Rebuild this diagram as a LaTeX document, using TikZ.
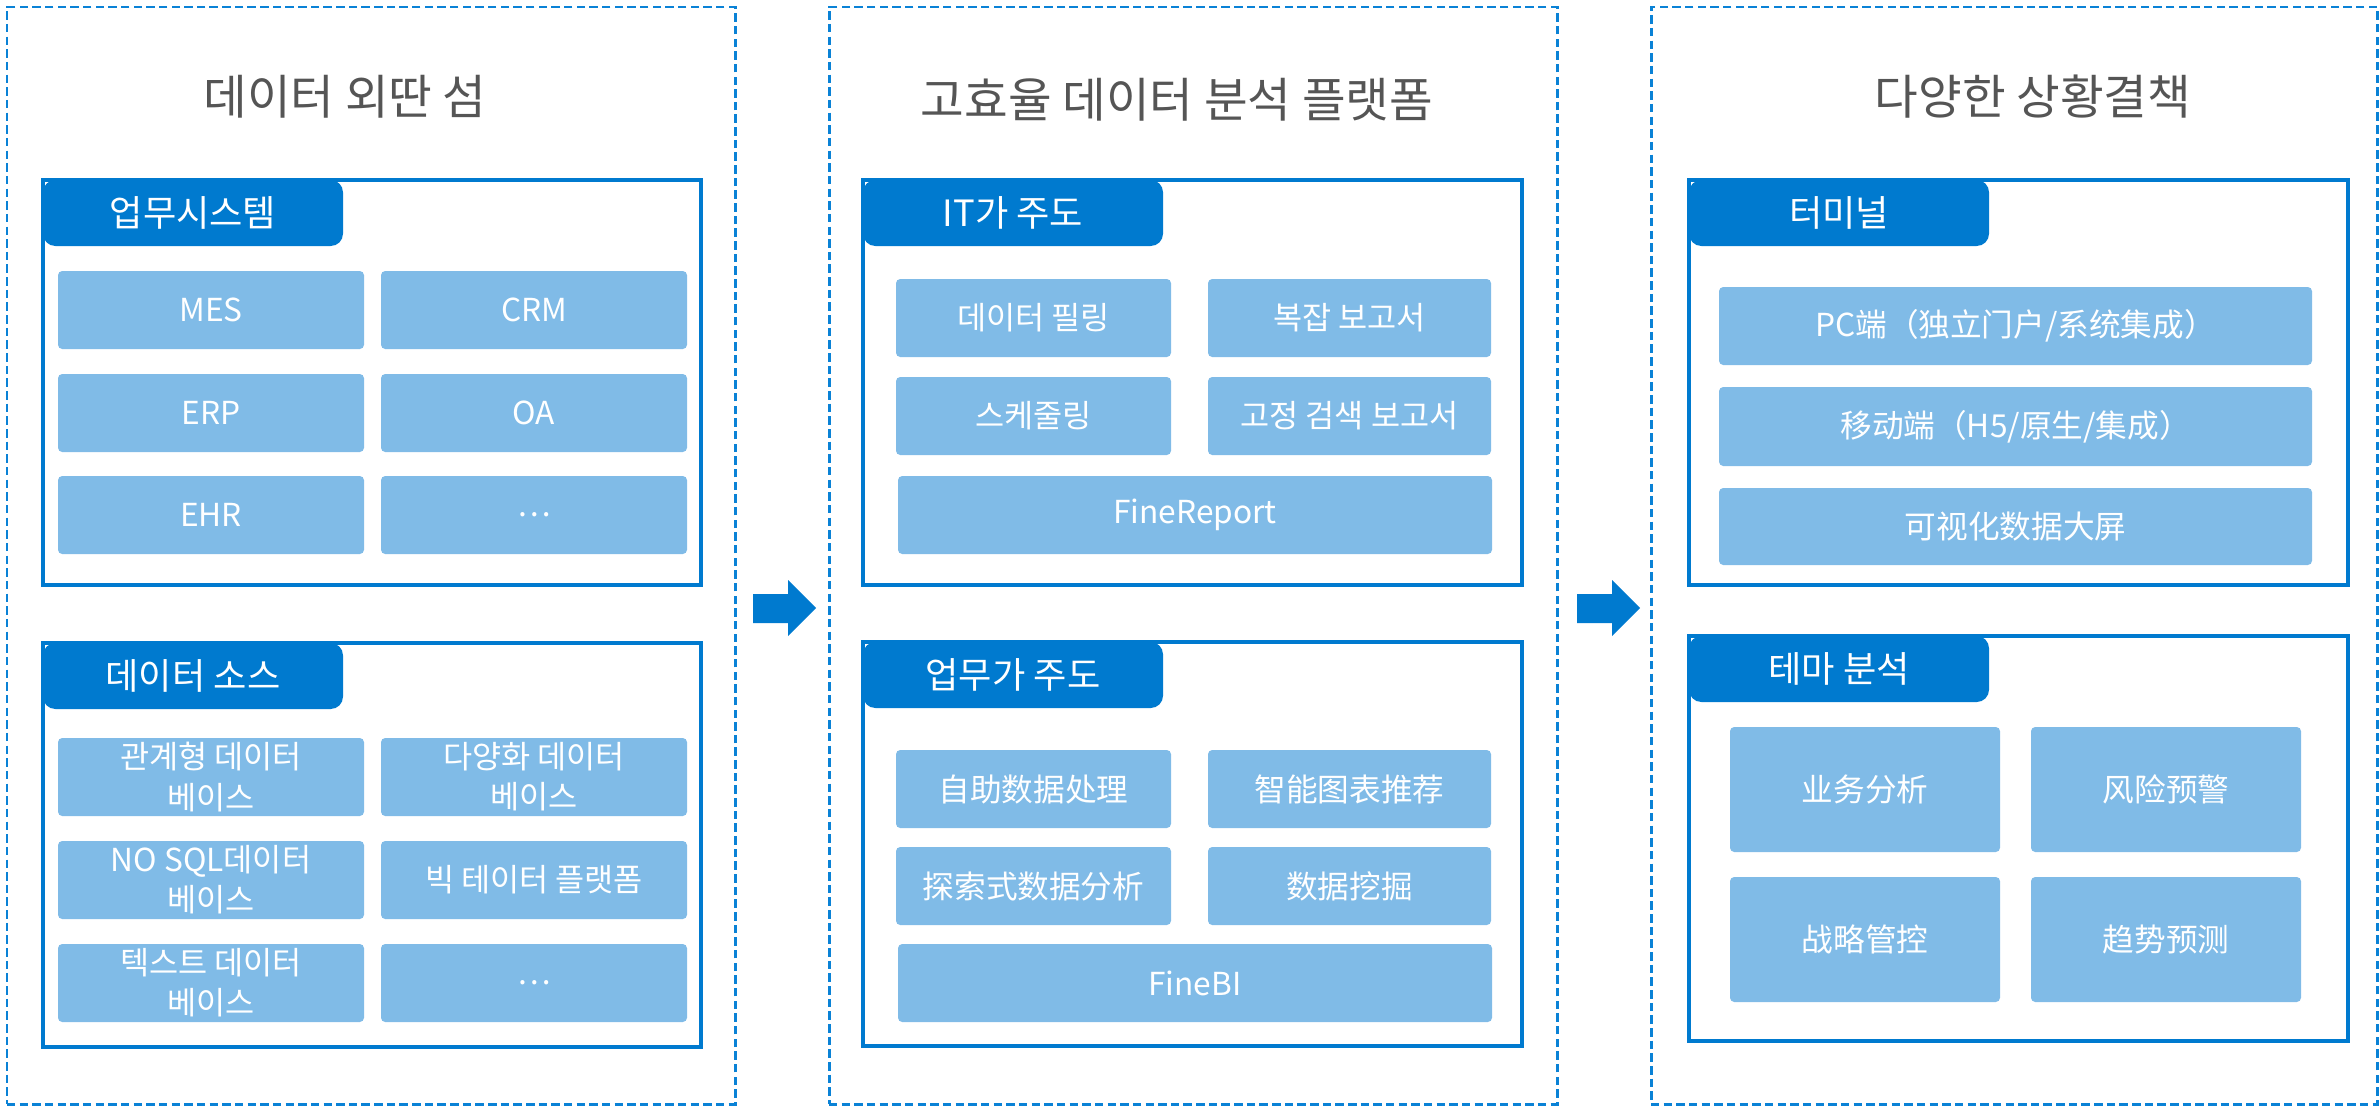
\documentclass[tikz,border=0pt]{standalone}
\usepackage{fontspec}
\setmainfont{Noto Sans CJK SC}
\usepackage{xcolor}
\definecolor{tabblue}{HTML}{007ACF}
\definecolor{itemblue}{HTML}{80BBE7}
\definecolor{dashblue}{HTML}{0A82D6}
\definecolor{titlegray}{HTML}{555555}

\tikzset{
  panel/.style={draw=dashblue, line width=0.85pt, dash pattern=on 2.4pt off 1.2pt, inner sep=0pt, outer sep=0pt},
  group/.style={draw=tabblue, line width=1pt, inner sep=0pt, outer sep=0pt},
  tab/.style={fill=tabblue, rounded corners=3.5pt, text=white, inner sep=0pt,
    font=\fontsize{10.3}{12}\selectfont},
  item/.style={fill=itemblue, rounded corners=1.2pt, text=white, align=center, inner sep=0pt,
    font=\fontsize{9}{11.4}\selectfont},
  title/.style={text=titlegray, font=\fontsize{13.5}{16}\selectfont},
}

% box node from pixel corners (x1,y1) to (x2,y2)
\newcommand{\boxnode}[7][item]{
  \node[#1, minimum width={(#5-#3)*0.01cm}, minimum height={(#6-#4)*0.01cm}]
    (#2) at ({(#3+#5)/2}, {(#4+#6)/2}) {#7};
}
% frame with its tab
\newcommand{\groupbox}[7]{
  \boxnode[group]{#1}{#2}{#3}{#4}{#5}{}
  \boxnode[tab]{#1tab}{#2+1}{#3+1}{#2+299}{#3+65}{#7}
}
\newcommand{\blockarrow}[1]{
  \fill[tabblue] (#1,594) -- (#1+35,594) -- (#1+35,580) -- (#1+63,608)
    -- (#1+35,636) -- (#1+35,623) -- (#1,623) -- cycle;
}

\begin{document}
\begin{tikzpicture}[x=0.01cm, y=-0.01cm]
  \useasboundingbox (0,0) rectangle (2379,1106);

  % dashed panels
  \boxnode[panel]{islands}{7}{7}{735}{1104}{}
  \boxnode[panel]{platform}{829}{7}{1557}{1104}{}
  \boxnode[panel]{solutions}{1651}{7}{2377}{1104}{}

  \node[title] (islandstitle) at (345,97) {데이터 외딴 섬};
  \node[title] (platformtitle) at (1177,100) {고효율 데이터 분석 플랫폼};
  \node[title] (solutionstitle) at (2033,97) {다양한 상황결책};

  \blockarrow{753}
  \blockarrow{1577}

  % panel 1
  \groupbox{biz}{43}{180}{701}{585}{}{업무시스템}
  \boxnode{mes}{58}{271}{364}{349}{MES}
  \boxnode{crm}{381}{271}{687}{349}{CRM}
  \boxnode{erp}{58}{374}{364}{452}{ERP}
  \boxnode{oa}{381}{374}{687}{452}{OA}
  \boxnode{ehr}{58}{476}{364}{554}{EHR}
  \boxnode{bizmore}{381}{476}{687}{554}{…}

  \groupbox{src}{43}{643}{701}{1047}{}{데이터 소스}
  \boxnode{rdb}{58}{738}{364}{816}{관계형 데이터\\베이스}
  \boxnode{mdb}{381}{738}{687}{816}{다양화 데이터\\베이스}
  \boxnode{nosql}{58}{841}{364}{919}{NO SQL데이터\\베이스}
  \boxnode{bigdata}{381}{841}{687}{919}{빅 테이터 플랫폼}
  \boxnode{textdb}{58}{944}{364}{1022}{텍스트 데이터\\베이스}
  \boxnode{srcmore}{381}{944}{687}{1022}{…}

  % panel 2
  \groupbox{it}{863}{180}{1522}{585}{}{IT가 주도}
  \boxnode{filling}{896}{279}{1171}{357}{데이터 필링}
  \boxnode{complex}{1208}{279}{1491}{357}{복잡 보고서}
  \boxnode{sched}{896}{377}{1171}{455}{스케줄링}
  \boxnode{fixed}{1208}{377}{1491}{455}{고정 검색 보고서}
  \boxnode{finereport}{898}{476}{1492}{554}{FineReport}

  \groupbox{bizled}{863}{642}{1522}{1046}{}{업무가 주도}
  \boxnode{selfsvc}{896}{750}{1171}{828}{自助数据处理}
  \boxnode{smartchart}{1208}{750}{1491}{828}{智能图表推荐}
  \boxnode{explore}{896}{847}{1171}{925}{探索式数据分析}
  \boxnode{mining}{1208}{847}{1491}{925}{数据挖掘}
  \boxnode{finebi}{898}{944}{1492}{1022}{FineBI}

  % panel 3
  \groupbox{term}{1689}{180}{2348}{585}{}{터미널}
  \boxnode{pc}{1719}{287}{2312}{365}{PC端（独立门户/系统集成）}
  \boxnode{mobile}{1719}{387}{2312}{466}{移动端（H5/原生/集成）}
  \boxnode{screen}{1719}{488}{2312}{565}{可视化数据大屏}

  \groupbox{theme}{1689}{636}{2348}{1041}{}{테마 분석}
  \boxnode{bizana}{1730}{727}{2000}{852}{业务分析}
  \boxnode{risk}{2031}{727}{2301}{852}{风险预警}
  \boxnode{strategy}{1730}{877}{2000}{1002}{战略管控}
  \boxnode{trend}{2031}{877}{2301}{1002}{趋势预测}
\end{tikzpicture}
\end{document}
